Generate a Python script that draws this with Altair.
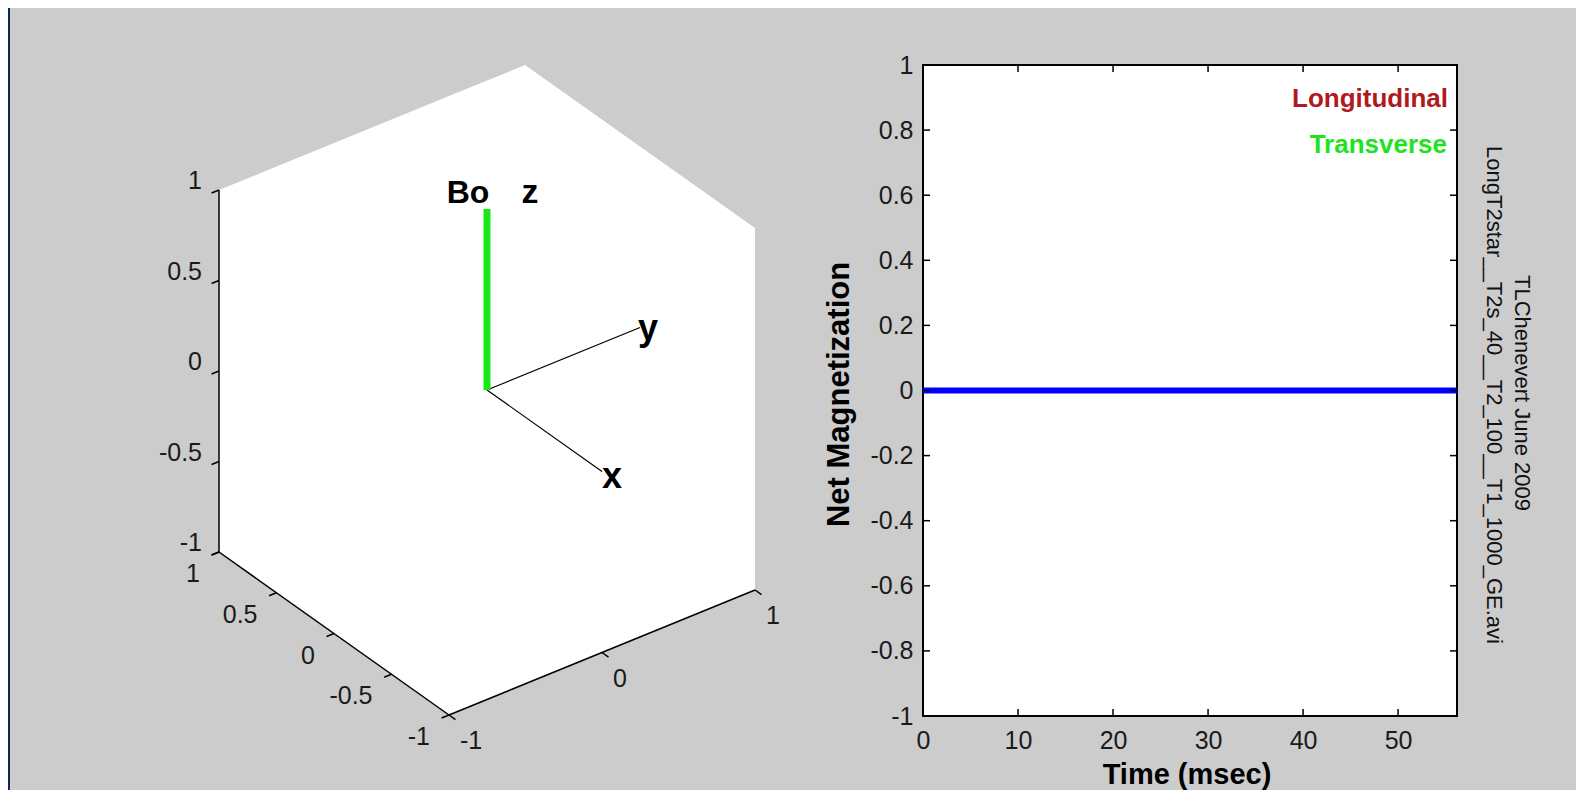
import altair as alt
import numpy as np
import pandas as pd

# ---------------- data ----------------
# 3-D panel: cube [-1, 1]^3 with the Bo / x / y / z vectors
z_tick_values = [1, 0.5, 0, -0.5, -1]        # vertical axis (left edge)
front_tick_values = [1, 0.5, 0, -0.5, -1]    # axis along the lower-left edge
side_tick_values = [-1, 0, 1]                # axis along the lower-right edge
vector_names = ["x", "y", "z"]
vector_dirs = [(-1, 0, 0), (0, 1, 0), (0, 0, 1)]   # (front, side, vertical) cube coords
field_label = "Bo"

# 2-D panel
time_msec = [0, 56.2]
net_magnetization = [0, 0]
time_ticks = [0, 10, 20, 30, 40, 50]
mag_ticks = [1, 0.8, 0.6, 0.4, 0.2, 0, -0.2, -0.4, -0.6, -0.8, -1]
time_domain = [0, 56.2]
mag_domain = [-1, 1]
legend_labels = ["Longitudinal", "Transverse"]
legend_colors = ["#b01a1e", "#1ee41e"]
credit_lines = ["TLChenevert June 2009", "LongT2star__T2s_40__T2_100__T1_1000_GE.avi"]

# ---------------- layout ----------------
W, H = 1568, 782                 # whole drawing
VX, VY = 915, 57                 # top-left of the 2-D plot area
VW, VH = 534, 651                # size of the 2-D plot area
FONT = "Liberation Sans, Arial, Helvetica, sans-serif"
TEXT = "#1a1a1a"

# orthographic projection of the cube onto the page (page pixels)
O = np.array([479.0, 382.0])
A = np.array([-115.0, -81.5])   # front axis
B = np.array([153.0, -62.5])    # side axis
C = np.array([0.0, -181.0])     # vertical axis


def proj(a, b, c):
    p = O + a * A + b * B + c * C
    return float(p[0]), float(p[1])


uA = A / np.linalg.norm(A)
uB = B / np.linalg.norm(B)
TICK = 8.0

# page-pixel scales, expressed relative to the 2-D plot origin
pxs = alt.Scale(domain=[0, W], range=[-VX, W - VX], nice=False, zero=False)
pys = alt.Scale(domain=[0, H], range=[-VY, H - VY], nice=False, zero=False)


def PX(f):
    return alt.X(f, scale=pxs, axis=None)


def PY(f):
    return alt.Y(f, scale=pys, axis=None)


# hexagonal silhouette of the cube
upper = [proj(1, -1, 1), proj(1, 1, 1), proj(-1, 1, 1)]
lower = [proj(1, -1, -1), proj(-1, -1, -1), proj(-1, 1, -1)]
hx = sorted({p[0] for p in upper + lower})
hex_df = pd.DataFrame({
    "x": hx,
    "y": np.interp(hx, [p[0] for p in upper], [p[1] for p in upper]),
    "y2": np.interp(hx, [p[0] for p in lower], [p[1] for p in lower]),
})
hexagon = alt.Chart(hex_df).mark_area(color="white", opacity=1, interpolate="linear").encode(
    x=PX("x:Q"), y=PY("y:Q"), y2="y2:Q")

# axis edges and tick marks
segs = []
for (p, q) in [(proj(1, -1, -1), proj(1, -1, 1)),
               (proj(1, -1, -1), proj(-1, -1, -1)),
               (proj(-1, -1, -1), proj(-1, 1, -1))]:
    segs.append(dict(x=p[0], y=p[1], x2=q[0], y2=q[1]))
for c in z_tick_values:
    p = proj(1, -1, c)
    segs.append(dict(x=p[0], y=p[1], x2=p[0] - uB[0] * TICK, y2=p[1] - uB[1] * TICK))
for a in front_tick_values:
    p = proj(a, -1, -1)
    segs.append(dict(x=p[0], y=p[1], x2=p[0] - uB[0] * TICK, y2=p[1] - uB[1] * TICK))
for b in side_tick_values:
    p = proj(-1, b, -1)
    segs.append(dict(x=p[0], y=p[1], x2=p[0] - uA[0] * TICK, y2=p[1] - uA[1] * TICK))
edges = alt.Chart(pd.DataFrame(segs)).mark_rule(color="black", strokeWidth=1.5).encode(
    x=PX("x:Q"), y=PY("y:Q"), x2="x2:Q", y2="y2:Q")

# vectors
vec_rows = []
for name, d in zip(vector_names, vector_dirs):
    e = proj(*d)
    vec_rows.append(dict(name=name, x=float(O[0]), y=float(O[1]), x2=e[0], y2=e[1]))
vec_df = pd.DataFrame(vec_rows)
thin_vecs = alt.Chart(vec_df[vec_df.name != "z"]).mark_rule(color="black", strokeWidth=1.2).encode(
    x=PX("x:Q"), y=PY("y:Q"), x2="x2:Q", y2="y2:Q")
z_vec = alt.Chart(vec_df[vec_df.name == "z"]).mark_rule(color="#18e818", strokeWidth=7, strokeCap="butt").encode(
    x=PX("x:Q"), y=PY("y:Q"), x2="x2:Q", y2="y2:Q")

# vector labels
lab_off = {"x": (10, 16), "y": (8, 12), "z": (43, -6)}
lab_size = {"x": 36, "y": 36, "z": 34}
vlab_rows = []
for name, d in zip(vector_names, vector_dirs):
    e = proj(*d)
    vlab_rows.append(dict(label=name, x=e[0] + lab_off[name][0], y=e[1] + lab_off[name][1], size=lab_size[name]))
ztop = proj(*vector_dirs[2])
vlab_rows.append(dict(label=field_label, x=ztop[0] - 19, y=ztop[1] - 6, size=32))
vlabels = alt.Chart(pd.DataFrame(vlab_rows)).mark_text(
    font=FONT, fontWeight="bold", color="black", align="center", baseline="alphabetic").encode(
    x=PX("x:Q"), y=PY("y:Q"), text="label:N",
    size=alt.Size("size:Q", scale=None, legend=None))


def fmt(v):
    return f"{v:g}"


right_rows = []
for c in z_tick_values:
    p = proj(1, -1, c)
    right_rows.append(dict(label=fmt(c), x=p[0] - 17, y=p[1] - 9))
for a in front_tick_values:
    p = proj(a, -1, -1)
    right_rows.append(dict(label=fmt(a), x=p[0] - 19, y=p[1] + 22))
left_rows = []
for b in side_tick_values:
    p = proj(-1, b, -1)
    left_rows.append(dict(label=fmt(b), x=p[0] + 11, y=p[1] + 26))
tick_labels_r = alt.Chart(pd.DataFrame(right_rows)).mark_text(
    font=FONT, fontSize=25, color=TEXT, align="right", baseline="middle").encode(
    x=PX("x:Q"), y=PY("y:Q"), text="label:N")
tick_labels_l = alt.Chart(pd.DataFrame(left_rows)).mark_text(
    font=FONT, fontSize=25, color=TEXT, align="left", baseline="middle").encode(
    x=PX("x:Q"), y=PY("y:Q"), text="label:N")

edge_strip = alt.Chart(pd.DataFrame({"k": [0]})).mark_rect(color="#0b2a4f").encode(
    x=alt.value(-VX), x2=alt.value(-VX + 2), y=alt.value(-VY), y2=alt.value(H - VY))

# ---------------- 2-D panel ----------------
xs = alt.Scale(domain=time_domain, range=[0, VW], nice=False, zero=False)
ys = alt.Scale(domain=mag_domain, range=[VH, 0], nice=False, zero=False)

x_axis = alt.Axis(values=time_ticks, labelExpr="'' + datum.value", orient="bottom",
                  domain=False, ticks=False, grid=False, labelPadding=12, zindex=2,
                  labelFont=FONT, labelFontSize=25, labelColor=TEXT, labelOverlap=False, labelFlush=False,
                  title="Time (msec)", titleFont=FONT, titleFontSize=29, titleFontWeight="bold",
                  titleColor="black", titleX=263.5, titleY=67, titleAlign="center",
                  titleBaseline="alphabetic")
y_axis = alt.Axis(values=mag_ticks, labelExpr="'' + datum.value", orient="left",
                  domain=False, ticks=False, grid=False, labelPadding=10, zindex=2,
                  labelFont=FONT, labelFontSize=25, labelColor=TEXT, labelOverlap=False, labelFlush=False,
                  title="Net Magnetization", titleFont=FONT, titleFontSize=31, titleFontWeight="bold",
                  titleColor="black", titleX=-75, titleY=329, titleAlign="center",
                  titleBaseline="alphabetic", titleAngle=270)

frame_df = pd.DataFrame({"t0": [time_domain[0]], "t1": [time_domain[1]],
                         "m0": [mag_domain[0]], "m1": [mag_domain[1]]})
frame = alt.Chart(frame_df).mark_rect(fill="white", stroke="black", strokeWidth=2).encode(
    x=alt.X("t0:Q", scale=xs, axis=x_axis), x2="t1:Q",
    y=alt.Y("m0:Q", scale=ys, axis=y_axis), y2="m1:Q")

line = alt.Chart(pd.DataFrame({"t": time_msec, "m": net_magnetization})).mark_line(
    color="#0000ff", strokeWidth=6, strokeCap="butt").encode(
    x=alt.X("t:Q", scale=xs, axis=None), y=alt.Y("m:Q", scale=ys, axis=None))

mt = pd.DataFrame({"m": mag_ticks})
tt = pd.DataFrame({"t": time_ticks})
ytick_l = alt.Chart(mt).mark_rule(color="black", strokeWidth=1.5).encode(
    y=alt.Y("m:Q", scale=ys, axis=None), x=alt.value(0), x2=alt.value(7))
ytick_r = alt.Chart(mt).mark_rule(color="black", strokeWidth=1.5).encode(
    y=alt.Y("m:Q", scale=ys, axis=None), x=alt.value(VW - 7), x2=alt.value(VW))
xtick_b = alt.Chart(tt).mark_rule(color="black", strokeWidth=1.5).encode(
    x=alt.X("t:Q", scale=xs, axis=None), y=alt.value(VH), y2=alt.value(VH - 7))
xtick_t = alt.Chart(tt).mark_rule(color="black", strokeWidth=1.5).encode(
    x=alt.X("t:Q", scale=xs, axis=None), y=alt.value(0), y2=alt.value(7))

legend_pos = [(1440, 98.7), (1439, 145)]
legend_layers = []
for lab, col, (lx, ly) in zip(legend_labels, legend_colors, legend_pos):
    legend_layers.append(
        alt.Chart(pd.DataFrame({"label": [lab]})).mark_text(
            font=FONT, fontSize=26, fontWeight="bold", color=col, align="right", baseline="alphabetic").encode(
            x=alt.value(lx - VX), y=alt.value(ly - VY), text="label:N"))

credit_pos = [(1507, 385), (1479, 387)]
credit_layers = []
for lab, (cx, cy) in zip(credit_lines, credit_pos):
    credit_layers.append(
        alt.Chart(pd.DataFrame({"label": [lab]})).mark_text(
            font=FONT, fontSize=22, color="#111111", angle=90, align="center", baseline="alphabetic").encode(
            x=alt.value(cx - VX), y=alt.value(cy - VY), text="label:N"))

layers = [frame, line, ytick_l, ytick_r, xtick_b, xtick_t, *legend_layers, *credit_layers,
          edge_strip, hexagon, edges, thin_vecs, z_vec, vlabels, tick_labels_r, tick_labels_l]

chart = alt.layer(*layers).resolve_scale(x="independent", y="independent").properties(
    width=VW, height=VH,
    padding={"left": VX, "top": VY, "right": W - VX - VW, "bottom": H - VY - VH},
    autosize=alt.AutoSizeParams(type="none"),
).configure(background="#cccccc").configure_view(strokeWidth=0)

chart.save("out.html", embed_options={"renderer": "svg", "actions": False})
